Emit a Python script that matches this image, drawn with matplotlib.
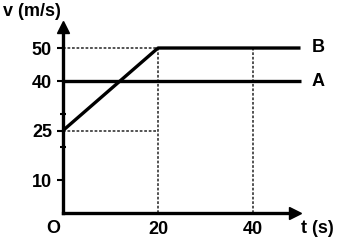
import matplotlib
matplotlib.use("Agg")
import matplotlib.pyplot as plt

plt.rcParams['font.family'] = ['Liberation Sans', 'DejaVu Sans']
plt.rcParams['font.weight'] = 'bold'

# data
t_A = [0, 50]
v_A = [40, 40]
t_B = [0, 20, 50]
v_B = [25, 50, 50]
ytick_vals = [10, 25, 40, 50]
ytick_labels = ['10', '25', '40', '50']
xtick_vals = [20, 40]
xtick_labels = ['20', '40']
minor_y = [10, 20, 30]

FS = 13

fig = plt.figure(figsize=(3.37, 2.47), dpi=100)
ax = fig.add_axes([0, 0, 1, 1])
ax.set_xlim(-13.26, 57.68)
ax.set_ylim(-10.3, 64.55)

for s in ['top', 'right']:
    ax.spines[s].set_visible(False)
ax.spines['left'].set_position(('data', 0))
ax.spines['bottom'].set_position(('data', 0))
ax.spines['left'].set_bounds(0, 55.5)
ax.spines['bottom'].set_bounds(0, 48)
ax.spines['left'].set_linewidth(2.4)
ax.spines['bottom'].set_linewidth(2.4)
ax.spines['left'].set_capstyle('projecting')
ax.plot([0], [56.5], marker='^', markersize=8, color='black', clip_on=False)
ax.plot([48.9], [0], marker='>', markersize=8, color='black', clip_on=False)

ax.set_yticks(ytick_vals)
ax.set_yticklabels(ytick_labels, fontsize=FS, fontweight='bold')
ax.set_yticks(minor_y, minor=True)
ax.tick_params(axis='y', which='major', direction='out', length=4, width=1.5, pad=4)
ax.tick_params(axis='y', which='minor', direction='inout', length=4, width=1.5)
ax.set_xticks(xtick_vals)
ax.set_xticklabels(xtick_labels, fontsize=FS, fontweight='bold')
ax.tick_params(axis='x', which='major', length=0, pad=6)

dash = dict(color='#444444', lw=1.3, ls=(0, (1.5, 1.0)))
ax.plot([20, 20], [0, 50], **dash)
ax.plot([40, 40], [0, 50], **dash)
ax.plot([0, 20], [50, 50], **dash)
ax.plot([0, 20], [25, 25], **dash)

ax.plot(t_A, v_A, color='black', lw=2.4, solid_capstyle='butt')
ax.plot(t_B, v_B, color='black', lw=2.4, solid_capstyle='butt')

ax.text(53.7, 50.3, 'B', fontsize=FS, fontweight='bold', ha='center', va='center')
ax.text(53.7, 40.0, 'A', fontsize=FS, fontweight='bold', ha='center', va='center')
ax.text(-2.0, -4.6, 'O', fontsize=FS, fontweight='bold', ha='center', va='center')
ax.text(50.0, -4.6, 't (s)', fontsize=FS, fontweight='bold', ha='left', va='center')
ax.text(-12.6, 61.0, 'v (m/s)', fontsize=FS, fontweight='bold', ha='left', va='center')

fig.savefig('out.png', dpi=100)
